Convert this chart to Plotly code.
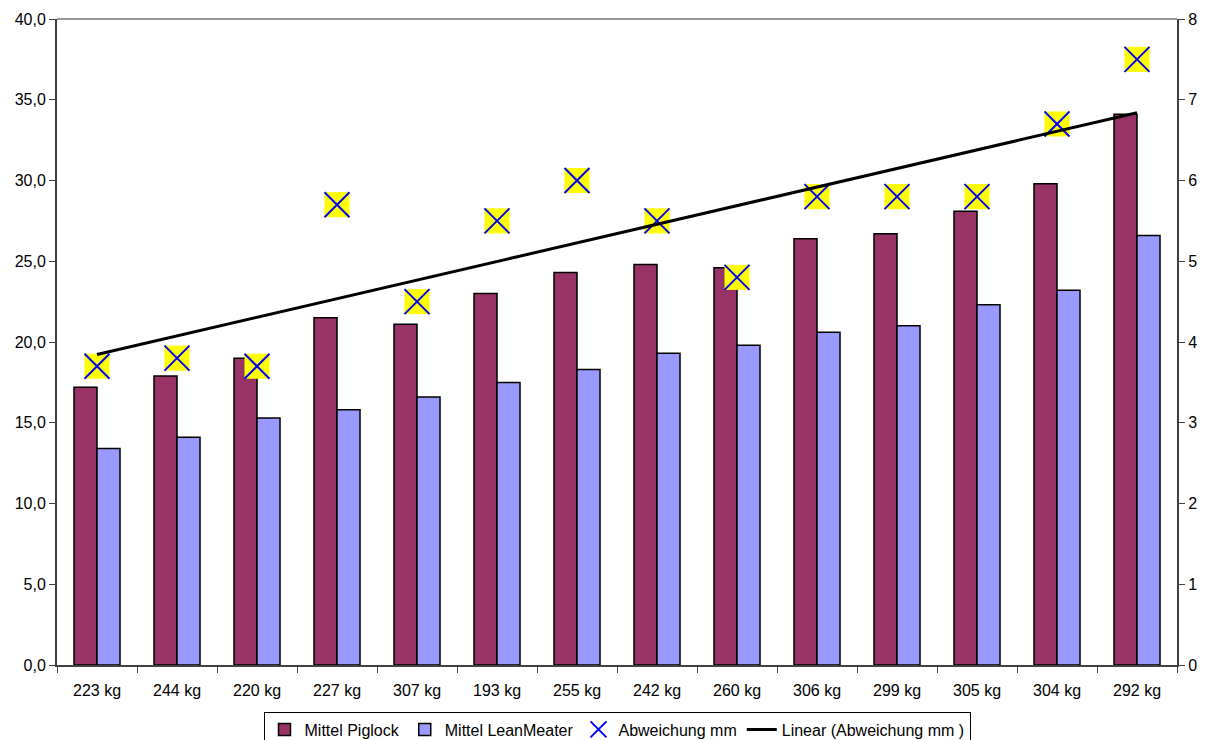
import numpy as np
import plotly.graph_objects as go

categories = ["223 kg", "244 kg", "220 kg", "227 kg", "307 kg", "193 kg", "255 kg",
              "242 kg", "260 kg", "306 kg", "299 kg", "305 kg", "304 kg", "292 kg"]
piglock = [17.2, 17.9, 19.0, 21.5, 21.1, 23.0, 24.3, 24.8, 24.6, 26.4, 26.7, 28.1, 29.8, 34.1]
leanmeater = [13.4, 14.1, 15.3, 15.8, 16.6, 17.5, 18.3, 19.3, 19.8, 20.6, 21.0, 22.3, 23.2, 26.6]
abweichung = [3.7, 3.8, 3.7, 5.7, 4.5, 5.5, 6.0, 5.5, 4.8, 5.8, 5.8, 5.8, 6.7, 7.5]

left_ticks = [0, 5, 10, 15, 20, 25, 30, 35, 40]
right_ticks = [0, 1, 2, 3, 4, 5, 6, 7, 8]

# linear trend of Abweichung
idx = np.arange(1, len(abweichung) + 1)
slope, intercept = np.polyfit(idx, abweichung, 1)
trend = slope * idx + intercept

FONT = "Liberation Sans, Arial, sans-serif"

fig = go.Figure()
fig.add_trace(go.Bar(x=categories, y=piglock, name="Mittel Piglock",
                     marker=dict(color="#993366", line=dict(color="#000000", width=1.5))))
fig.add_trace(go.Bar(x=categories, y=leanmeater, name="Mittel LeanMeater",
                     marker=dict(color="#9999FF", line=dict(color="#000000", width=1.5))))
fig.add_trace(go.Scatter(x=categories, y=abweichung, yaxis="y2", mode="markers",
                         showlegend=False, hoverinfo="skip",
                         marker=dict(symbol="square", size=25, color="#FFFF00",
                                     line=dict(width=0))))
fig.add_trace(go.Scatter(x=categories, y=abweichung, yaxis="y2", mode="markers",
                         name="Abweichung mm",
                         marker=dict(symbol="x-thin", size=25, color="#0000FF",
                                     line=dict(color="#0000FF", width=2))))
fig.add_trace(go.Scatter(x=categories, y=trend, yaxis="y2", mode="lines",
                         name="Linear (Abweichung mm )",
                         line=dict(color="#000000", width=3)))

axis_col = "#404040"
fig.update_layout(
    width=1210, height=740,
    margin=dict(l=57, r=33, t=19, b=75, autoexpand=False),
    paper_bgcolor="white", plot_bgcolor="white",
    separators=",.",
    font=dict(family=FONT, size=16, color="#000000"),
    barmode="group", bargap=0.425, bargroupgap=0,
    xaxis=dict(type="category", range=[-0.5, len(categories) - 0.5], autorange=False,
               tickson="boundaries", ticks="outside", ticklen=6,
               tickcolor=axis_col, showline=True, linecolor=axis_col, linewidth=2,
               showgrid=False, tickfont=dict(size=16), ticklabelstandoff=10),
    yaxis=dict(range=[0, 40], tickvals=left_ticks, tickformat=".1f", ticks="outside",
               ticklen=6, tickcolor=axis_col, showline=True, linecolor=axis_col,
               linewidth=2, showgrid=False, zeroline=False, tickfont=dict(size=16)),
    yaxis2=dict(range=[0, 8], tickvals=right_ticks, tickformat="d", overlaying="y",
                side="right", ticks="outside", ticklen=6, tickcolor=axis_col,
                showline=True, linecolor=axis_col, linewidth=2, showgrid=False,
                zeroline=False, tickfont=dict(size=16)),
    legend=dict(orientation="h", x=0.5, xanchor="center", y=-0.072, yanchor="top",
                bordercolor="#000000", borderwidth=1, font=dict(size=16),
                itemwidth=30, tracegroupgap=0, traceorder="normal"),
    shapes=[dict(type="line", xref="paper", yref="paper", x0=0, x1=1, y0=1, y1=1,
                 line=dict(color="#999999", width=2))],
)

fig.write_html("out.html")
